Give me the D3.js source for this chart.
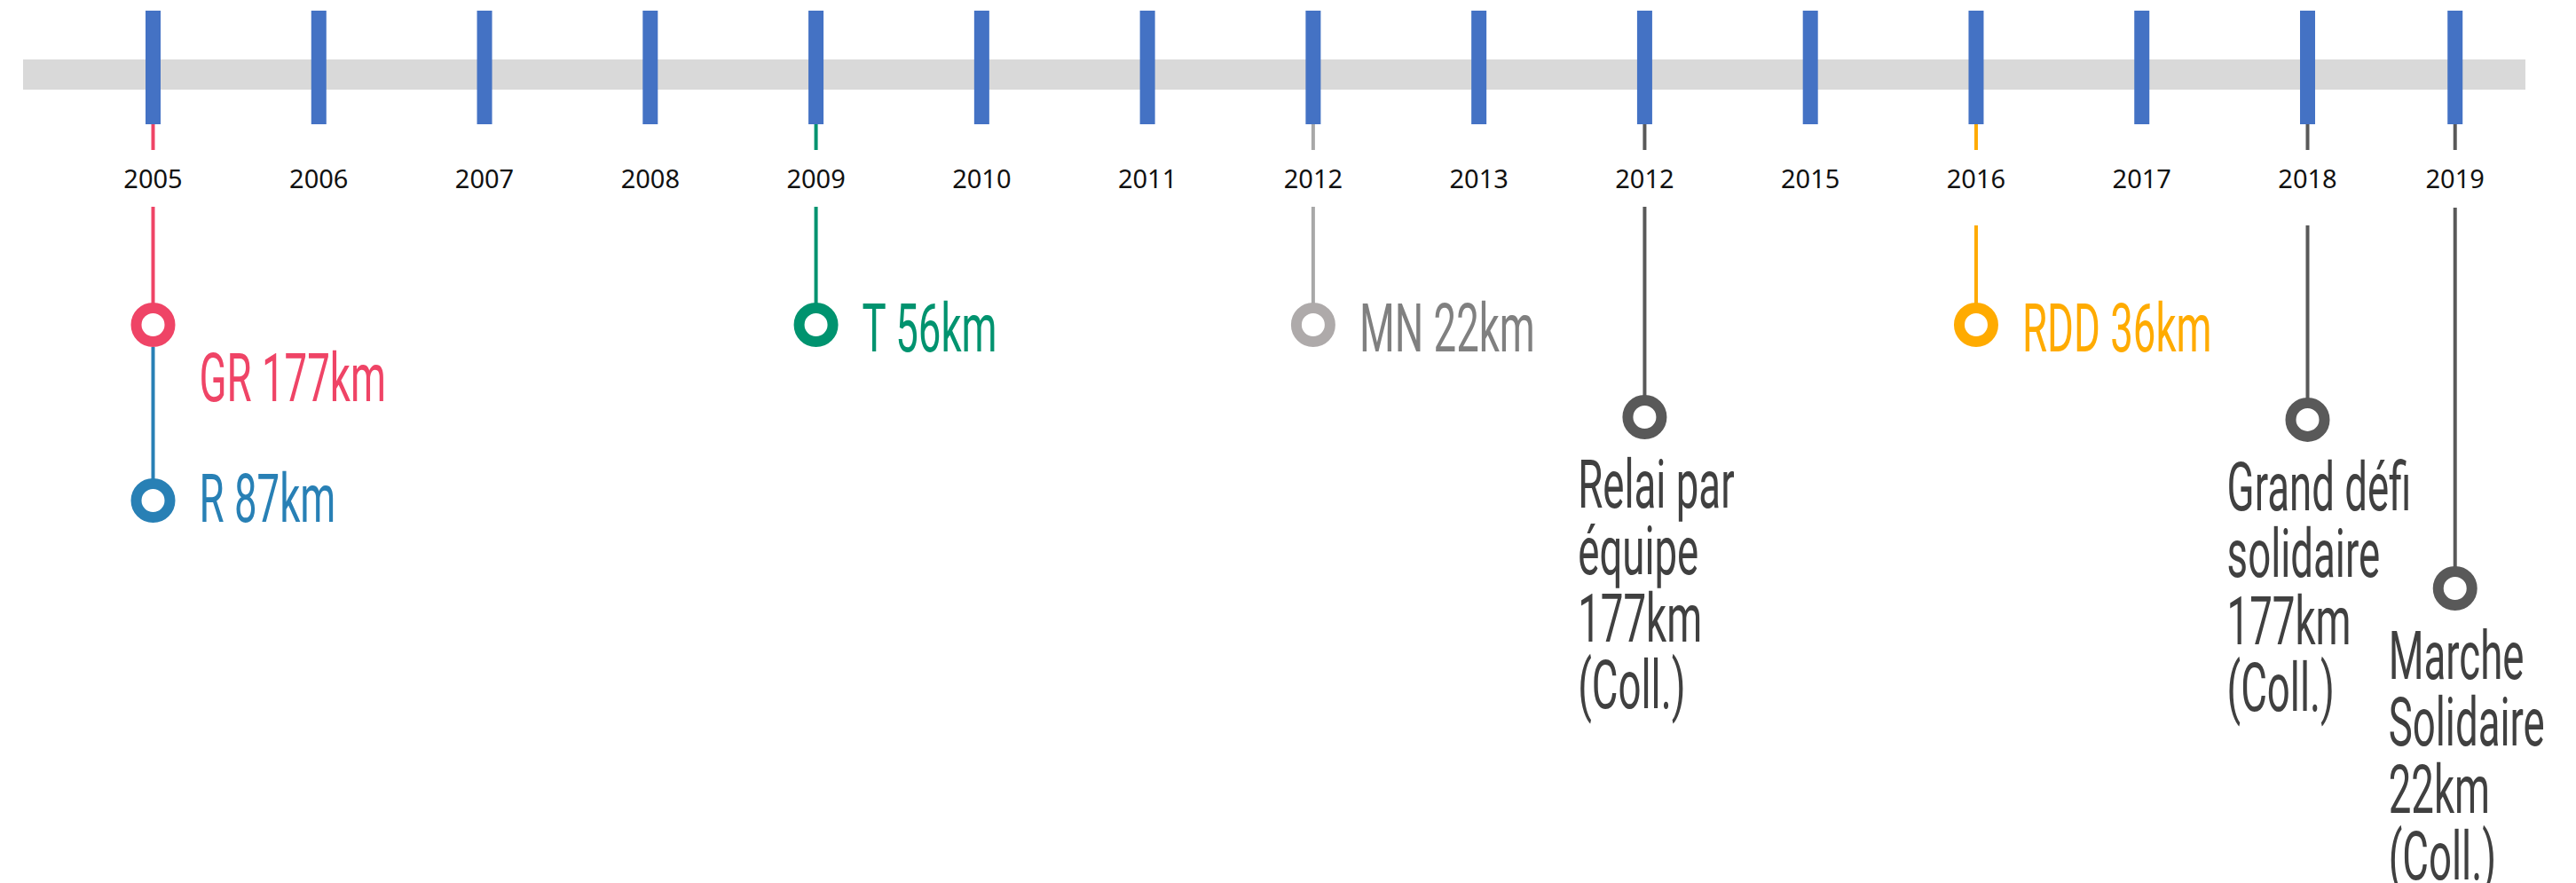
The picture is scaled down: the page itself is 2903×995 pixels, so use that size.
<!DOCTYPE html>
<html lang="fr">

<head>
    <meta charset="utf-8">
    <title>Timeline</title>
    <script src="https://cdn.jsdelivr.net/npm/d3@7"></script>
    <style>
        body { margin: 0; background: #fff; }
    </style>
</head>

<body>
    <div class="div_d3"></div>

    <script>
        let w = 2903;
        let h = 995;

        // axis ticks (the 10th label really reads 2012 in the source)
        let years = ["2005", "2006", "2007", "2008", "2009", "2010", "2011", "2012", "2013", "2012", "2015", "2016", "2017", "2018", "2019"];
        let yearSlot = [0, 1, 2, 3, 4, 5, 6, 7, 8, 9, 10, 11, 12, 13, 13.89];

        // events
        let eventLines = [
            ["GR 177km"],
            ["R 87km"],
            ["T 56km"],
            ["MN 22km"],
            ["Relai par", "équipe", "177km", "(Coll.)"],
            ["RDD 36km"],
            ["Grand défi", "solidaire", "177km", "(Coll.)"],
            ["Marche", "Solidaire", "22km", "(Coll.)"]
        ];
        let eventYear = [0, 0, 4, 7, 9, 11, 13, 14];
        let eventDepth = [0, 2, 0, 0, 1.05, 0, 1.08, 3];

        // look of each event
        let looks = [
            { color: "#EF4466", text: "#EF4466", side: "right", dy: 56, gap: 233 },
            { color: "#2880B5", text: "#2880B5", side: "right", dy: -6, gap: 233 },
            { color: "#00936F", text: "#00936F", side: "right", dy: 0, gap: 233 },
            { color: "#AEAAAA", text: "#808080", side: "right", dy: 0, gap: 233, stem: "#A8A8A8" },
            { color: "#595959", text: "#404040", side: "below", gap: 233 },
            { color: "#FFAB00", text: "#FFAB00", side: "right", dy: 0, gap: 254 },
            { color: "#595959", text: "#404040", side: "below", gap: 254 },
            { color: "#595959", text: "#404040", side: "below", gap: 234 }
        ];

        let x = d3.scaleLinear().domain([0, 13]).range([172.5, 2600.5]);
        let y = d3.scaleLinear().domain([0, 3]).range([366, 663]);

        let ringR = 19, ringW = 12;
        let barTop = 12, barBottom = 140;
        let squeeze = 0.6;
        let labelFont = "Roboto, 'Liberation Sans', sans-serif";

        let svg = d3.select(".div_d3").append("svg")
            .attr("width", w)
            .attr("height", h);

        // grey band
        svg.append("rect")
            .attr("x", 26)
            .attr("y", 67)
            .attr("width", 2846 - 26)
            .attr("height", 34)
            .attr("fill", "#D9D9D9");

        let events = eventLines.map(function (lines, i) {
            return {
                lines: lines,
                cx: x(yearSlot[eventYear[i]]),
                cy: y(eventDepth[i]),
                year: eventYear[i],
                depth: eventDepth[i],
                look: looks[i]
            };
        });

        // stems
        let stems = svg.append("g");
        events.forEach(function (e) {
            let prev = events.filter(function (o) { return o.year === e.year && o.depth < e.depth; });
            if (prev.length) {
                let p = d3.max(prev, function (o) { return o.cy; });
                stems.append("line")
                    .attr("x1", e.cx).attr("x2", e.cx)
                    .attr("y1", p + ringR + ringW / 2).attr("y2", e.cy - ringR)
                    .attr("stroke", e.look.color)
                    .attr("stroke-width", 4);
            } else {
                let c = e.look.stem || e.look.color;
                stems.append("line")
                    .attr("x1", e.cx).attr("x2", e.cx)
                    .attr("y1", barBottom).attr("y2", 169)
                    .attr("stroke", c)
                    .attr("stroke-width", 4);
                stems.append("line")
                    .attr("x1", e.cx).attr("x2", e.cx)
                    .attr("y1", e.look.gap).attr("y2", e.cy - ringR)
                    .attr("stroke", c)
                    .attr("stroke-width", 4);
            }
        });

        // blue ticks
        svg.selectAll("rect.tick")
            .data(yearSlot)
            .enter()
            .append("rect")
                .attr("class", "tick")
                .attr("x", function (d) { return x(d) - 8.5; })
                .attr("y", barTop)
                .attr("width", 17)
                .attr("height", barBottom - barTop)
                .attr("fill", "#4472C4");

        // year labels
        svg.selectAll("text.year")
            .data(years)
            .enter()
            .append("text")
                .attr("class", "year")
                .attr("x", function (d, i) { return x(yearSlot[i]); })
                .attr("y", 212)
                .attr("text-anchor", "middle")
                .attr("font-family", "'Noto Sans', 'Open Sans', sans-serif")
                .attr("font-size", 29)
                .attr("fill", "#111")
                .text(function (d) { return d; });

        // rings
        svg.selectAll("circle.ring")
            .data(events)
            .enter()
            .append("circle")
                .attr("class", "ring")
                .attr("cx", function (d) { return d.cx; })
                .attr("cy", function (d) { return d.cy; })
                .attr("r", ringR)
                .attr("fill", "#fff")
                .attr("stroke", function (d) { return d.look.color; })
                .attr("stroke-width", ringW);

        // event labels
        events.forEach(function (e) {
            let t = svg.append("text")
                .attr("font-family", labelFont)
                .attr("font-size", 76)
                .attr("fill", e.look.text);

            if (e.look.side === "right") {
                t.attr("transform", "translate(" + (e.cx + 52) + "," + (e.cy + 30 + e.look.dy) + ") scale(" + squeeze + ",1)")
                    .text(e.lines[0]);
            } else {
                t.selectAll("tspan")
                    .data(e.lines)
                    .enter()
                    .append("tspan")
                        .attr("x", 0)
                        .attr("dy", function (d, i) { return i === 0 ? 0 : 75.5; })
                        .text(function (d) { return d; });
                let widest = t.node().getBBox().width * squeeze;
                let left = e.cx - widest / 2 + 13;
                t.attr("transform", "translate(" + left + "," + (e.cy + 102) + ") scale(" + squeeze + ",1)");
            }
        });
    </script>
</body>

</html>
